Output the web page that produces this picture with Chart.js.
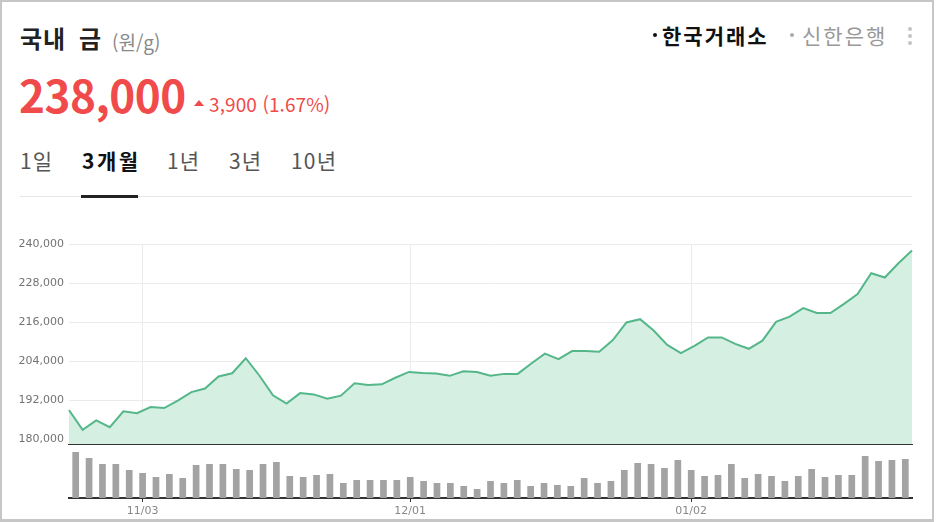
<!DOCTYPE html>
<html lang="ko">
<head>
<meta charset="utf-8">
<script src="https://cdn.jsdelivr.net/npm/chart.js@4.4.0/dist/chart.umd.min.js"></script>
<style>
  html, body { margin: 0; padding: 0; background: #fff; }
  body { width: 936px; height: 522px; position: relative; overflow: hidden; font-family: "Noto Sans CJK KR", "Noto Sans", sans-serif; }
  .frame { position: absolute; left: 0; top: 0; width: 934px; height: 522px; box-sizing: border-box; border: 2px solid #c6c6c6; border-bottom-width: 3px; }
  .txt { position: absolute; line-height: 1; white-space: nowrap; }
  .title { left: 20px; top: 26px; font-size: 24px; font-weight: 700; color: #222; letter-spacing: 1px; word-spacing: 5px; }
  .unit { left: 112px; top: 32px; font-size: 19px; color: #8a8a8a; }
  .price { left: 19px; top: 72px; font-size: 44px; font-weight: 700; color: #f04a4a; letter-spacing: -0.5px; }
  .tri { position: absolute; left: 194px; top: 100px; width: 0; height: 0; border-left: 5px solid transparent; border-right: 5px solid transparent; border-bottom: 6px solid #f04a4a; }
  .change { left: 209px; top: 94px; font-size: 19px; color: #f04a4a; letter-spacing: 0.1px; }
  .tab { top: 150px; font-size: 21px; color: #555; letter-spacing: 1.2px; }
  .tab.on { color: #111; font-weight: 700; letter-spacing: 2.5px; }
  .underline { position: absolute; left: 81px; top: 195px; width: 57px; height: 3px; background: #222; }
  .sep { position: absolute; left: 20px; top: 196px; width: 892px; height: 1px; background: #e6e6e6; }
  .dot { position: absolute; width: 4px; height: 4px; border-radius: 50%; }
  .src { top: 25px; font-size: 21px; letter-spacing: 2px; }
  .kebab { position: absolute; left: 908px; width: 4px; height: 4px; border-radius: 50%; background: #c4c4c4; }
  canvas { position: absolute; left: 0; }
</style>
</head>
<body>
<div class="frame"></div>

<div class="txt title">국내 금</div>
<div class="txt unit">(원/g)</div>
<div class="txt price">238,000</div>
<div class="tri"></div>
<div class="txt change">3,900 (1.67%)</div>

<div class="txt tab" style="left:20px">1일</div>
<div class="txt tab on" style="left:82px">3개월</div>
<div class="txt tab" style="left:167px">1년</div>
<div class="txt tab" style="left:229px">3년</div>
<div class="txt tab" style="left:291px">10년</div>
<div class="sep"></div>
<div class="underline"></div>

<div class="dot" style="left:653px;top:33px;background:#111"></div>
<div class="txt src" style="left:662px;color:#111;font-weight:700">한국거래소</div>
<div class="dot" style="left:790px;top:33px;background:#aaa"></div>
<div class="txt src" style="left:802px;color:#999">신한은행</div>
<div class="kebab" style="top:27px"></div>
<div class="kebab" style="top:34px"></div>
<div class="kebab" style="top:41px"></div>

<canvas id="priceChart" width="930" height="211" style="top:234px"></canvas>
<canvas id="volumeChart" width="930" height="70" style="top:446px"></canvas>

<script>
// trading days, 10/27 ~ 01/26
const dates = [
  '10/27', '10/28', '10/29', '10/30', '10/31',
  '11/03', '11/04', '11/05', '11/06', '11/07',
  '11/10', '11/11', '11/12', '11/13', '11/14',
  '11/17', '11/18', '11/19', '11/20', '11/21',
  '11/24', '11/25', '11/26', '11/27', '11/28',
  '12/01', '12/02', '12/03', '12/04', '12/05',
  '12/08', '12/09', '12/10', '12/11', '12/12',
  '12/15', '12/16', '12/17', '12/18', '12/19',
  '12/22', '12/23', '12/24', '12/26', '12/29', '12/30',
  '01/02', '01/05', '01/06', '01/07', '01/08', '01/09',
  '01/12', '01/13', '01/14', '01/15', '01/16',
  '01/19', '01/20', '01/21', '01/22', '01/23', '01/26'
];

// 원/g
const prices = [
  189000, 182900, 185800, 183700, 188600, 188000, 189900, 189600, 191900, 194500,
  195600, 199300, 200300, 204900, 199600, 193500, 191000, 194200, 193800, 192500,
  193400, 197200, 196700, 196900, 198900, 200700, 200400, 200200, 199500, 200900,
  200700, 199500, 200100, 200100, 203300, 206300, 204600, 207100, 207100, 206900,
  210500, 215900, 216900, 213400, 209000, 206500, 208700, 211300, 211300, 209300,
  207800, 210300, 216100, 217700, 220300, 218800, 218800, 221600, 224600, 231000,
  229700, 234100, 238000
];

// 거래량 (relative)
const volumes = [
  46, 40, 34, 34, 28, 25, 21, 24, 20, 33,
  34, 34, 29, 28, 34, 36, 22, 21, 23, 24,
  15, 18, 18, 18, 18, 21, 17, 15, 15, 12,
  9, 17, 15, 18, 12, 15, 13, 12, 20, 15,
  17, 28, 35, 34, 30, 38, 28, 22, 23, 34,
  20, 24, 22, 17, 22, 29, 21, 23, 23, 42,
  37, 38, 39
];

const yTicks = [180000, 192000, 204000, 216000, 228000, 240000];
const tickLabels = ['11/03', '12/01', '01/02'];

const axisFont = { family: 'DejaVu Sans', size: 11 };
const keepLabelTicks = s => { s.ticks = s.ticks.filter(t => tickLabels.includes(dates[t.value])); };

new Chart(document.getElementById('priceChart'), {
  type: 'line',
  data: {
    labels: dates,
    datasets: [{
      data: prices,
      xAxisID: 'x',
      borderColor: '#55b789',
      borderWidth: 2,
      backgroundColor: '#d5f0e2',
      fill: 'start',
      pointRadius: 0,
      tension: 0
    }]
  },
  options: {
    animation: false,
    responsive: false,
    layout: { padding: { left: 0, right: 18, top: 10, bottom: 0 } },
    plugins: { legend: { display: false }, tooltip: { enabled: false } },
    scales: {
      x: {
        type: 'category',
        offset: false,
        grid: { display: false, drawTicks: false },
        ticks: { display: false },
        border: { display: true, color: '#333', width: 2, z: 1 },
        afterFit: s => { s.height = 0; s.paddingLeft = 0; s.paddingRight = 0; }
      },
      xGrid: {
        type: 'category',
        axis: 'x',
        position: 'bottom',
        labels: dates,
        offset: true,
        grid: { color: '#ebebeb', drawTicks: false, offset: false },
        ticks: { display: false, autoSkip: false },
        border: { display: false },
        afterBuildTicks: keepLabelTicks,
        afterFit: s => { s.height = 0; s.paddingLeft = 0; s.paddingRight = 0; }
      },
      y: {
        min: 178250,
        max: 240000,
        afterBuildTicks: s => { s.ticks = yTicks.map(v => ({ value: v })); },
        afterFit: s => { s.width = 69; s.paddingTop = 0; s.paddingBottom = 0; },
        grid: { color: '#ebebeb', drawTicks: false },
        border: { display: false },
        ticks: {
          color: '#737373',
          font: axisFont,
          padding: 5,
          callback: v => v.toLocaleString('en-US')
        }
      }
    }
  }
});

new Chart(document.getElementById('volumeChart'), {
  type: 'bar',
  data: {
    labels: dates,
    datasets: [{
      data: volumes,
      backgroundColor: '#a3a3a3',
      barPercentage: 0.5,
      categoryPercentage: 1
    }]
  },
  options: {
    animation: false,
    responsive: false,
    layout: { padding: { left: 69, right: 18, top: 4, bottom: 0 } },
    plugins: { legend: { display: false }, tooltip: { enabled: false } },
    scales: {
      x: {
        grid: { display: true, drawOnChartArea: false, drawTicks: true, tickLength: 4, color: '#333', offset: false },
        border: { display: true, color: '#333', width: 2 },
        ticks: { color: '#888', font: axisFont, padding: 3, autoSkip: false, maxRotation: 0 },
        afterBuildTicks: keepLabelTicks,
        afterFit: s => { s.height = 18; s.paddingLeft = 0; s.paddingRight = 0; }
      },
      y: { display: false, min: 0, max: 48 }
    }
  }
});
</script>
</body>
</html>
